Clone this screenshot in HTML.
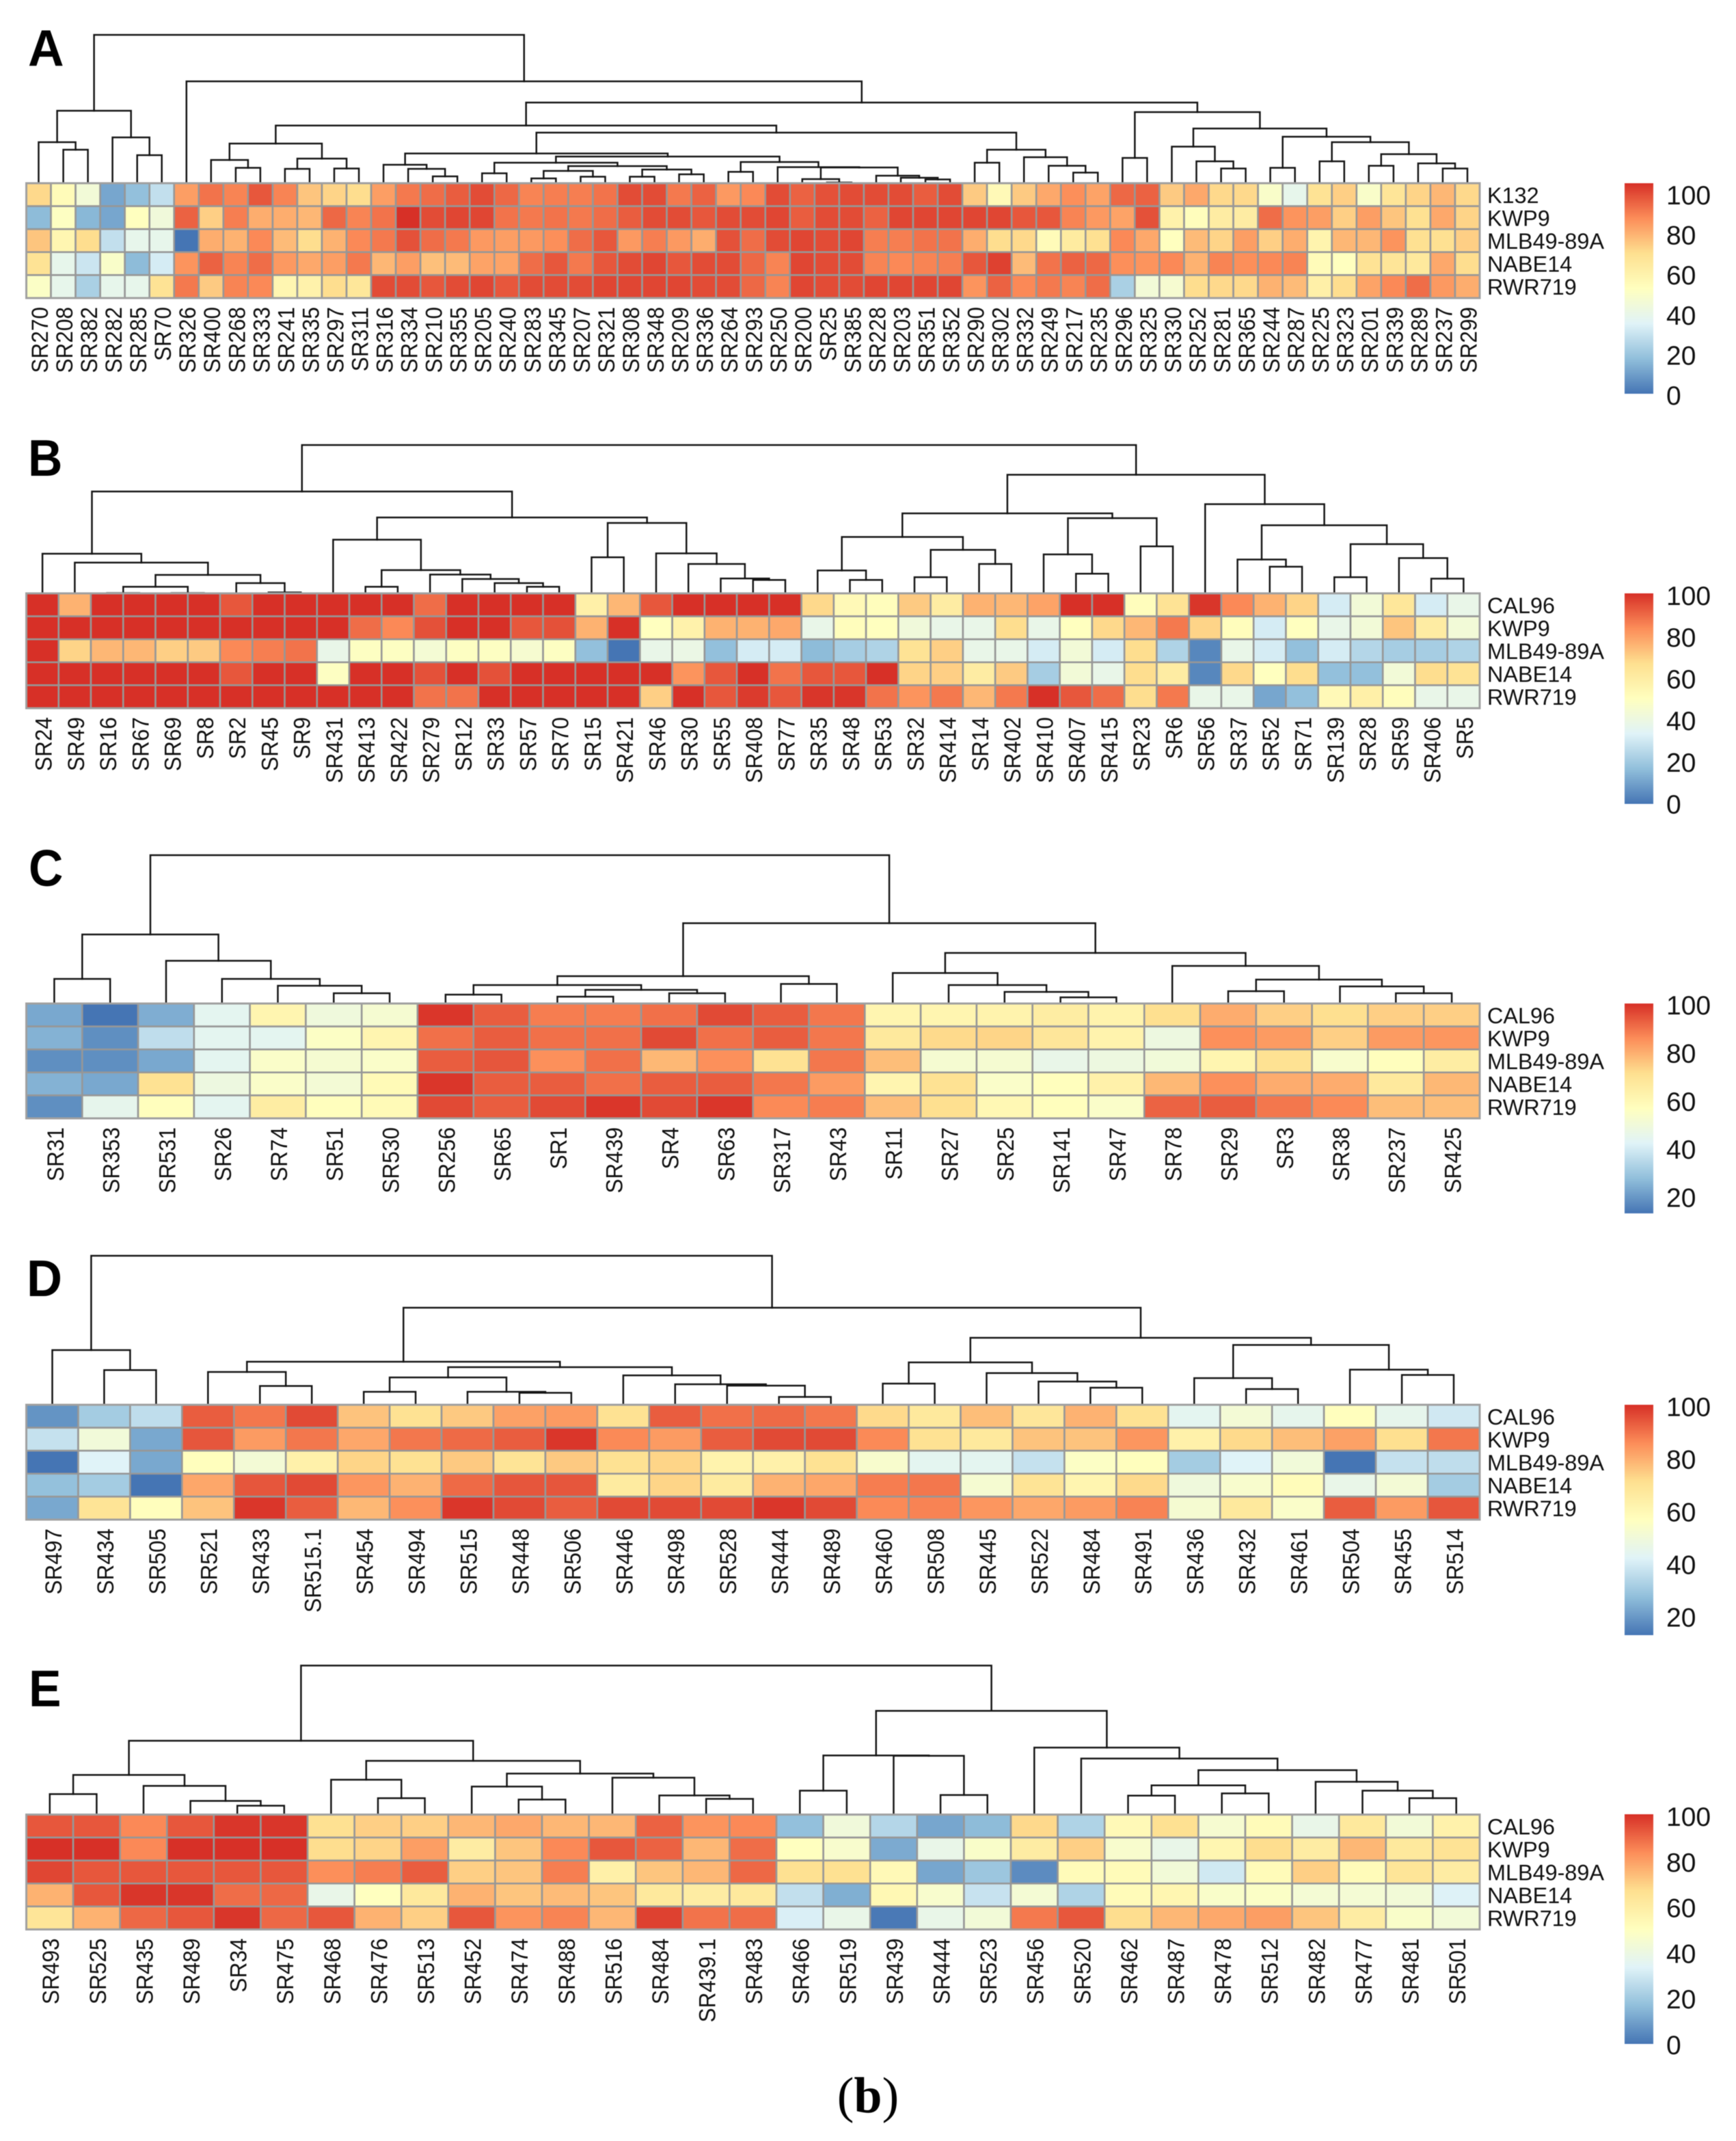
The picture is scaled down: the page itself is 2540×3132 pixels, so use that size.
<!DOCTYPE html>
<html lang="en">
<head>
<meta charset="utf-8">
<title>Heatmaps with dendrograms, panels A to E</title>
<style>
html,body{margin:0;padding:0;background:#fff}
svg{display:block;filter:blur(0.5px)}
text{font-family:"Liberation Sans",sans-serif;fill:#111}
</style>
</head>
<body>
<svg id="figure" xmlns="http://www.w3.org/2000/svg" width="2540" height="3132" viewBox="0 0 2540 3132">
<rect x="0" y="0" width="2540" height="3132" fill="#ffffff"/>
<text x="1270" y="3090" text-anchor="middle" font-size="74" style="font-family:'Liberation Serif',serif;fill:#000">(<tspan font-weight="bold">b</tspan>)</text>
</svg>
<script>
// ---------- Panel A data ----------
const strainsA = ["K132","KWP9","MLB49-89A","NABE14","RWR719"];
const colsA = ["SR270","SR208","SR382","SR282","SR285","SR70","SR326","SR400","SR268","SR333","SR241","SR335","SR297","SR311","SR316","SR334","SR210","SR355","SR205","SR240","SR283","SR345","SR207","SR321","SR308","SR348","SR209","SR336","SR264","SR293","SR250","SR200","SR25","SR385","SR228","SR203","SR351","SR352","SR290","SR302","SR332","SR249","SR217","SR235","SR296","SR325","SR330","SR252","SR281","SR365","SR244","SR287","SR225","SR323","SR201","SR339","SR289","SR237","SR299"];
const a_K132 = [68,52,43,11,17,27,80,88,85,93,85,72,69,67,80,87,89,92,95,90,85,86,86,88,95,95,87,91,81,84,95,91,94,95,95,95,92,95,71,53,71,78,83,79,90,91,71,78,68,68,47,37,65,70,47,64,69,75,68];
const a_KWP9 = [16,49,15,11,50,42,91,70,86,77,77,75,90,85,88,100,95,96,96,88,87,88,87,89,92,95,95,93,95,95,96,92,95,95,91,96,96,96,96,96,93,93,85,81,79,94,57,51,60,60,89,82,80,70,80,72,66,78,69];
const a_MLB = [72,55,67,27,37,37,0,77,76,84,74,67,76,84,87,94,89,87,81,80,81,83,89,93,81,86,81,77,94,89,95,96,95,96,86,86,88,88,77,67,68,52,61,66,84,78,50,74,69,80,70,77,56,75,75,82,66,66,70];
const a_NABE = [65,37,29,47,16,31,82,91,85,89,81,78,80,87,75,80,73,74,79,79,89,93,87,93,95,96,93,95,95,90,85,96,95,95,85,84,85,86,93,97,74,88,91,90,83,82,84,76,85,83,84,85,52,50,65,64,62,78,67];
const a_RWR = [48,37,22,37,37,65,87,71,85,84,55,57,67,63,95,95,93,95,96,93,95,95,95,96,96,96,96,95,95,90,85,96,95,95,96,96,96,96,82,91,84,87,85,89,22,43,45,67,68,68,76,74,58,67,79,84,89,81,77];
const ticksA = [100,80,60,40,20,0];
// merge tree: [merge distance, left, right]; 0 is a leaf
const treeA = [217,[106,[60,0,[49,0,0]],[67,0,[41,0,0]]],[149,0,[118,[84.4,[58,[34,0,[22.5,0,0]],[36,[21,0,0],[21.5,0,0]]],[74,[43.5,[27,0,[21,0,[10,0,0]]],[39,[30,[14.5,0,0],[25,[18,[7,0,0],[9.5,0,0]],[20,[9.5,0,0],[13,0,0]]]],[31,[16.6,0,0],[23.5,0,[23,[6,0,[1,0,0]],[11,0,[8,0,[5.5,0,0]]]]]]]],[49,[30,0,0],[38,0,[25.5,0,[15.5,0,0]]]]]],[104,[37,0,0],[80,[53.5,0,[32,0,[21.5,0,0]]],[68,[22.5,0,0],[60,[32,0,0],[42.5,[25.5,0,0],[29,0,[21.5,0,0]]]]]]]]]];

// ---------- Panel B data ----------
const strainsB = ["CAL96","KWP9","MLB49-89A","NABE14","RWR719"];
const colsB = ["SR24","SR49","SR16","SR67","SR69","SR8","SR2","SR45","SR9","SR431","SR413","SR422","SR279","SR12","SR33","SR57","SR70","SR15","SR421","SR46","SR30","SR55","SR408","SR77","SR35","SR48","SR53","SR32","SR414","SR14","SR402","SR410","SR407","SR415","SR23","SR6","SR56","SR37","SR52","SR71","SR139","SR28","SR59","SR406","SR5"];
const b_CAL = [100,76,100,100,100,100,93,100,100,100,100,100,89,100,100,100,100,58,75,93,100,100,100,100,68,53,51,71,60,76,75,79,100,100,51,65,99,84,76,69,31,43,63,31,38];
const b_KWP9 = [100,100,100,100,100,100,100,100,100,100,89,84,94,100,100,93,94,76,100,50,57,76,76,78,38,51,50,42,38,38,67,38,50,68,75,87,69,51,31,50,38,43,72,60,43];
const b_MLB = [100,69,75,75,70,71,84,86,88,38,49,49,44,49,49,45,49,17,0,38,39,17,31,31,16,21,23,65,70,38,38,31,43,31,67,23,4,38,31,17,31,24,21,21,23];
const b_NABE = [100,100,100,100,100,100,93,100,100,49,100,100,94,100,94,100,100,100,100,100,82,93,100,88,93,93,100,69,70,60,71,21,43,38,67,60,4,68,50,67,17,17,43,67,65];
const b_RWR = [100,100,100,100,100,100,100,100,100,100,100,100,88,88,100,100,100,100,100,70,100,93,98,93,99,99,88,82,87,75,87,100,93,89,67,87,38,38,11,17,53,58,51,38,38];
const ticksB = [100,80,60,40,20,0];
const treeB = [217,[149,[58,0,[45,0,[27,[9.6,[0.5,0,0],[0.5,0,0]],[15,0,[1.4,0,0]]]]],[111,[78.5,0,[34,[9.6,0,0],[27.5,0,[21,0,[15,0,[9.6,0,0]]]]]],[103,[52.7,0,0],[58.5,0,[43,0,[21.8,0,[19.6,0,0]]]]]]],[173.5,[117,[82.5,[33.5,0,[19.6,0,0]],[63.6,[23.6,0,0],[43,0,0]]],[110,[57,0,[28.7,0,0]],[68.7,0,0]]],[130.5,0,[99.6,[49.5,0,[39,0,0]],[72,[23.6,0,0],[51.6,0,[21.5,0,0]]]]]]];

// ---------- Panel C data ----------
const strainsC = ["CAL96","KWP9","MLB49-89A","NABE14","RWR719"];
const colsC = ["SR31","SR353","SR531","SR26","SR74","SR51","SR530","SR256","SR65","SR1","SR439","SR4","SR63","SR317","SR43","SR11","SR27","SR25","SR141","SR47","SR78","SR29","SR3","SR38","SR237","SR425"];
const c_CAL = [23,13,24,44,61,49,52,99,93,88,88,90,96,93,89,61,61,62,65,62,71,80,74,71,74,74];
const c_KWP9 = [25,18,36,44,44,55,61,90,93,90,90,96,90,93,89,67,72,73,68,62,48,85,83,74,83,84];
const c_MLB = [18,18,23,44,54,52,54,93,94,85,90,78,85,70,89,77,52,52,46,48,50,61,70,53,57,65];
const c_NABE = [25,23,70,48,54,51,59,99,93,93,90,93,93,89,83,61,70,54,57,63,78,85,80,80,67,78];
const c_RWR = [18,45,57,44,65,57,59,96,93,96,99,96,99,86,88,77,71,60,57,54,92,93,89,86,77,77];
const ticksC = [100,80,60,40,20];
const treeC = [217,[101,[36,0,0],[62.5,0,[36,0,[26,0,[15,0,0]]]]],[117.5,[40,[27,[13,0,0],[20,[10,0,0],[15,0,0]]],[28.6,0,0]],[74,[44.6,0,[27,0,[17,0,[9,0,0]]]],[55,0,[35,[18,0,0],[25,0,[15,0,0]]]]]]];

// ---------- Panel D data ----------
const strainsD = ["CAL96","KWP9","MLB49-89A","NABE14","RWR719"];
const colsD = ["SR497","SR434","SR505","SR521","SR433","SR515.1","SR454","SR494","SR515","SR448","SR506","SR446","SR498","SR528","SR444","SR489","SR460","SR508","SR445","SR522","SR484","SR491","SR436","SR432","SR461","SR504","SR455","SR514"];
const d_CAL = [19,31,36,93,89,96,76,70,75,82,83,70,93,90,91,89,72,67,77,68,79,70,44,51,45,57,45,39];
const d_KWP9 = [37,50,23,94,83,89,81,89,91,93,99,86,83,93,96,96,86,70,67,76,76,84,63,72,77,82,71,89];
const d_MLB = [13,42,23,57,51,63,73,70,75,69,75,70,73,62,63,70,53,44,44,37,55,57,31,42,50,13,37,36];
const d_NABE = [28,31,13,81,94,96,84,79,91,94,94,66,73,66,79,81,88,89,52,69,61,72,49,53,58,46,51,31];
const d_RWR = [23,69,57,76,99,93,78,85,99,96,93,96,96,96,99,96,86,87,84,81,83,87,52,67,54,93,83,94];
const ticksD = [100,80,60,40,20];
const treeD = [218,[80,0,[50.7,0,0]],[142,[63,[48,0,[27.5,0,0]],[55,[40,[19,0,0],[19,0,[17.5,0,0]]],[43,0,[30,0,[28,0,[11.5,0,0]]]]]],[98,[62,[31,0,0],[46.4,0,[34,0,[25,0,0]]]],[87.5,[39,0,[23,0,0]],[51.4,0,[43.6,0,0]]]]]];

// ---------- Panel E data ----------
const strainsE = ["CAL96","KWP9","MLB49-89A","NABE14","RWR719"];
const colsE = ["SR493","SR525","SR435","SR489","SR34","SR475","SR468","SR476","SR513","SR452","SR474","SR488","SR516","SR484","SR439.1","SR483","SR466","SR519","SR439","SR444","SR523","SR456","SR520","SR462","SR487","SR478","SR512","SR482","SR477","SR481","SR501"];
const e_CAL = [93,93,84,93,99,99,66,70,70,75,78,75,75,91,82,84,17,42,24,11,16,68,23,53,66,45,52,38,62,43,57];
const e_KWP9 = [100,100,84,100,100,100,67,69,80,60,72,84,93,91,75,89,50,46,12,38,47,60,70,46,38,55,67,60,75,62,65];
const e_MLB = [96,93,93,93,93,93,83,86,92,70,72,86,58,72,75,90,66,66,53,11,19,5,52,52,43,30,52,70,52,64,60];
const e_NABE = [76,93,99,99,89,90,38,50,62,76,72,74,72,62,60,62,27,13,54,46,28,44,23,52,55,47,48,44,44,43,33];
const e_RWR = [64,76,90,93,99,90,93,76,70,93,82,85,75,97,88,89,32,38,1,38,43,87,93,67,75,78,80,72,60,47,43];
const ticksE = [100,80,60,40,20,0];
const treeE = [218,[108,[58,[30,0,0],[42,0,[20,0,[13,0,0]]]],[78.6,[51,0,[24,0,0]],[60,[41,0,[22,0,0]],[54,0,[28,0,[23,0,0]]]]]],[151.7,[86.5,[35,0,0],[86,0,[28.6,0,0]]],[98,0,[82,0,[65,[42.7,[27.7,0,0],[31,0,0]],[48,0,[35,0,[24,0,0]]]]]]]];

// ---------- Colour scale ----------
const paletteStops = ["#4575B4","#91BFDB","#E0F3F8","#FFFFBF","#FEE090","#FC8D59","#D73027"];

const NS = "http://www.w3.org/2000/svg";
const figure = document.getElementById("figure");
const HEAT_LEFT = 38.5, HEAT_RIGHT = 2165, HEAT_H = 168;
const LEG_X = 2377, LEG_W = 42;

function hexRgb(h){return [1,3,5].map(function(i){return parseInt(h.substr(i,2),16);});}
function colorFor(v,min,max){
  var t=Math.max(0,Math.min(1,(v-min)/(max-min)))*(paletteStops.length-1);
  var i=Math.min(Math.floor(t),paletteStops.length-2), f=t-i;
  var a=hexRgb(paletteStops[i]), b=hexRgb(paletteStops[i+1]);
  return "rgb("+a.map(function(c,k){return Math.round(c+(b[k]-c)*f);}).join(",")+")";
}
function svgEl(tag,attrs,parent){
  var el=document.createElementNS(NS,tag);
  for(var k in attrs){el.setAttribute(k,attrs[k]);}
  parent.appendChild(el);
  return el;
}

// gradient shared by every legend
var defs=svgEl("defs",{},figure);
var grad=svgEl("linearGradient",{id:"legendGradient",x1:"0",y1:"1",x2:"0",y2:"0"},defs);
paletteStops.forEach(function(c,i){
  svgEl("stop",{offset:(i/(paletteStops.length-1)),"stop-color":c},grad);
});

function drawPanel(p){
  var g=svgEl("g",{},figure);
  
  
  var nCols=p.cols.length, nRows=p.rows.length;
  var colW=(HEAT_RIGHT-HEAT_LEFT)/nCols, rowH=HEAT_H/nRows;
  function xAxis(i){return HEAT_LEFT+colW*i;}
  function yAxis(r){return p.top+rowH*r;}
  function distAxis(d){return p.top-d;}

  // panel letter
  var letter=svgEl("text",{transform:"translate("+p.letterX+","+p.letterY+") scale("+p.letterScale+",1)","font-size":75,"font-weight":"bold",style:"fill:#000"},g);
  
  
  letter.textContent=p.letter;

  // dendrogram
  var dg=svgEl("g",{fill:"none",stroke:"#141414","stroke-width":2.5,"stroke-linecap":"square"},g);
  
  
  var leaf=0;
  function walk(node){
    if(node===0){var lx=xAxis(leaf+0.5);leaf++;return {x:lx,y:p.top};}
    var l=walk(node[1]), r=walk(node[2]), y=distAxis(node[0]);
    var path=svgEl("path",{d:"M"+l.x.toFixed(1)+" "+l.y.toFixed(1)+"V"+y.toFixed(1)+"H"+r.x.toFixed(1)+"V"+r.y.toFixed(1)},dg);
    
    
    return {x:(l.x+r.x)/2,y:y};
  }
  walk(p.tree);

  // heatmap cells
  var hg=svgEl("g",{stroke:"#979797","stroke-width":2.6},g);
  
  
  p.values.forEach(function(rowVals,r){
    rowVals.forEach(function(v,c){
      var cell=svgEl("rect",{x:xAxis(c).toFixed(2),y:yAxis(r).toFixed(2),width:colW.toFixed(2),height:rowH.toFixed(2),fill:colorFor(v,p.min,p.max)},hg);
      
      
    });
  });
  var frame=svgEl("rect",{x:HEAT_LEFT,y:p.top,width:HEAT_RIGHT-HEAT_LEFT,height:HEAT_H,fill:"none",stroke:"#a0a0a0","stroke-width":3},g);
  
  

  // row labels
  p.rows.forEach(function(name,r){
    var t=svgEl("text",{x:2176,y:(yAxis(r+0.5)+12).toFixed(1),"font-size":32.4},g);
    
    
    t.textContent=name;
  });

  // column labels
  p.cols.forEach(function(name,c){
    var bx=xAxis(c+0.5)+13.4, by=p.top+HEAT_H+13;
    var t=svgEl("text",{transform:"translate("+bx.toFixed(1)+","+by+") rotate(-90) scale(0.93,1)","text-anchor":"end","font-size":34},g);
    
    
    t.textContent=name;
  });

  // legend
  var bar=svgEl("rect",{x:LEG_X,y:p.legTop,width:LEG_W,height:p.legBottom-p.legTop,fill:"url(#legendGradient)"},g);
  
  
  p.ticks.forEach(function(v){
    var cy=p.tick100+(100-v)*p.tickPerUnit;
    var t=svgEl("text",{x:2438,y:(cy+14).toFixed(1),"font-size":39},g);
    
    
    t.textContent=String(v);
  });
}

drawPanel({letter:"A",letterX:41,letterY:96,letterScale:0.97,top:268,rows:strainsA,cols:colsA,values:[a_K132,a_KWP9,a_MLB,a_NABE,a_RWR],tree:treeA,ticks:ticksA,min:0,max:100,legTop:268,legBottom:576,tick100:285,tickPerUnit:2.93});
drawPanel({letter:"B",letterX:41,letterY:696,letterScale:0.93,top:868,rows:strainsB,cols:colsB,values:[b_CAL,b_KWP9,b_MLB,b_NABE,b_RWR],tree:treeB,ticks:ticksB,min:0,max:100,legTop:868,legBottom:1176,tick100:871,tickPerUnit:3.05});
drawPanel({letter:"C",letterX:42,letterY:1296,letterScale:0.93,top:1468,rows:strainsC,cols:colsC,values:[c_CAL,c_KWP9,c_MLB,c_NABE,c_RWR],tree:treeC,ticks:ticksC,min:13,max:100,legTop:1468,legBottom:1775,tick100:1470,tickPerUnit:3.52});
drawPanel({letter:"D",letterX:39,letterY:1896,letterScale:0.96,top:2055,rows:strainsD,cols:colsD,values:[d_CAL,d_KWP9,d_MLB,d_NABE,d_RWR],tree:treeD,ticks:ticksD,min:13,max:100,legTop:2055,legBottom:2392,tick100:2057.5,tickPerUnit:3.85});
drawPanel({letter:"E",letterX:42,letterY:2496,letterScale:0.95,top:2654.5,rows:strainsE,cols:colsE,values:[e_CAL,e_KWP9,e_MLB,e_NABE,e_RWR],tree:treeE,ticks:ticksE,min:0,max:100,legTop:2654,legBottom:2990,tick100:2657,tickPerUnit:3.34});
</script>
</body>
</html>
